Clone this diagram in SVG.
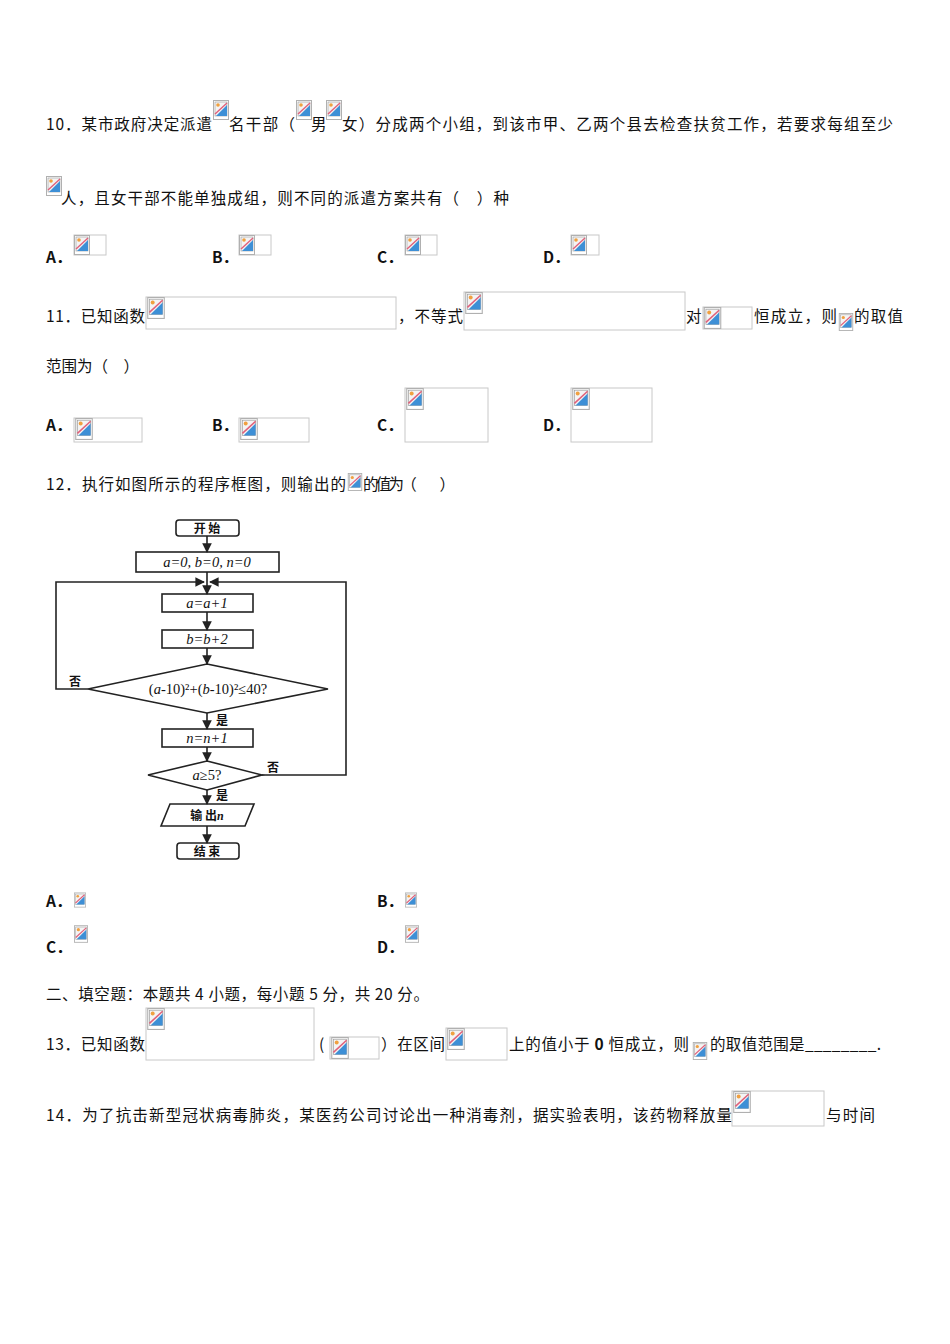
<svg xmlns="http://www.w3.org/2000/svg" xmlns:xlink="http://www.w3.org/1999/xlink" width="950" height="1344" viewBox="0 0 950 1344">
<style>
text{font-family:"Noto Sans CJK SC","Liberation Serif",serif;font-size:15.5px;fill:#111}
.b{font-weight:bold}
.box{fill:none;stroke:#c8c8c8;stroke-width:1}
.fc{fill:none;stroke:#222;stroke-width:1.6}
.ft{font-family:"Liberation Serif","Noto Sans CJK SC",serif;font-size:14.5px;font-style:italic;text-anchor:middle}
.fz{font-size:12px;text-anchor:middle;font-weight:bold}
</style>
<defs>
<symbol id="ic" viewBox="0 0 16 20">
<rect x="0.5" y="0.5" width="15" height="19" fill="#fff" stroke="#b0b0b0"/>
<rect x="2" y="2" width="12" height="14" fill="#f4f4f4" stroke="#999" stroke-width="0.6"/>
<polygon points="14,5 14,16 3,16" fill="#3d8fd6"/>
<line x1="2" y1="14" x2="14" y2="3" stroke="#e0607a" stroke-width="1.4"/>
<circle cx="5" cy="5" r="1.8" fill="#f0a040"/>
</symbol>
<marker id="ar" viewBox="0 0 10 10" refX="9" refY="5" markerWidth="6" markerHeight="6" orient="auto"><path d="M0,0L10,5L0,10z" fill="#222"/></marker>
</defs>

<g id="q10">
<text x="46" y="130" textLength="166" lengthAdjust="spacing">10．某市政府决定派遣</text>
<use xlink:href="#ic" x="213" y="100" width="16" height="20"/>
<text x="229" y="130" textLength="66" lengthAdjust="spacing">名干部（</text>
<use xlink:href="#ic" x="296" y="100" width="16" height="20"/>
<text x="311" y="130">男</text>
<use xlink:href="#ic" x="326" y="100" width="16" height="20"/>
<text x="342" y="130" textLength="551" lengthAdjust="spacing">女）分成两个小组，到该市甲、乙两个县去检查扶贫工作，若要求每组至少</text>
<use xlink:href="#ic" x="46" y="176" width="16" height="20"/>
<text x="61" y="204" textLength="448" lengthAdjust="spacing">人，且女干部不能单独成组，则不同的派遣方案共有（　）种</text>
<text x="46" y="263" class="b">A．</text><rect class="box" x="74" y="235" width="32" height="20"/><use xlink:href="#ic" x="74" y="235" width="16" height="20"/>
<text x="212" y="263" class="b">B．</text><rect class="box" x="239" y="235" width="32" height="20"/><use xlink:href="#ic" x="239" y="235" width="16" height="20"/>
<text x="377" y="263" class="b">C．</text><rect class="box" x="405" y="235" width="32" height="20"/><use xlink:href="#ic" x="405" y="235" width="16" height="20"/>
<text x="543" y="263" class="b">D．</text><rect class="box" x="571" y="235" width="28" height="20"/><use xlink:href="#ic" x="571" y="235" width="16" height="20"/>
</g>

<g id="q11">
<text x="46" y="322" textLength="99" lengthAdjust="spacing">11．已知函数</text>
<rect class="box" x="146" y="297" width="250" height="32"/><use xlink:href="#ic" x="146" y="297" width="20" height="22"/>
<text x="398" y="322" textLength="65" lengthAdjust="spacing">，不等式</text>
<rect class="box" x="464" y="292" width="221" height="38"/><use xlink:href="#ic" x="464" y="292" width="20" height="22"/>
<text x="686" y="322">对</text>
<rect class="box" x="703" y="307" width="49" height="22"/><use xlink:href="#ic" x="703" y="307" width="19" height="22"/>
<text x="754" y="322" textLength="83" lengthAdjust="spacing">恒成立，则</text>
<use xlink:href="#ic" x="838" y="313" width="16" height="18"/>
<text x="854" y="322" textLength="49" lengthAdjust="spacing">的取值</text>
<text x="46" y="372" textLength="93" lengthAdjust="spacing">范围为（　）</text>
<text x="46" y="431" class="b">A．</text><rect class="box" x="74" y="418" width="68" height="24"/><use xlink:href="#ic" x="74" y="418" width="20" height="22"/>
<text x="212" y="431" class="b">B．</text><rect class="box" x="239" y="418" width="70" height="24"/><use xlink:href="#ic" x="239" y="418" width="20" height="22"/>
<text x="377" y="431" class="b">C．</text><rect class="box" x="405" y="388" width="83" height="54"/><use xlink:href="#ic" x="405" y="388" width="20" height="22"/>
<text x="543" y="431" class="b">D．</text><rect class="box" x="571" y="388" width="81" height="54"/><use xlink:href="#ic" x="571" y="388" width="20" height="22"/>
</g>

<g id="q12">
<text x="46" y="490" textLength="300" lengthAdjust="spacing">12．执行如图所示的程序框图，则输出的</text>
<use xlink:href="#ic" x="347" y="473" width="16" height="18"/>
<text x="363" y="490" textLength="92" lengthAdjust="spacing">的值为（　　）</text>
</g>

<g id="flowchart">
<g id="n-start"><rect class="fc" x="176" y="520" width="63" height="16" rx="3"/><text class="fz" x="207" y="533">开 始</text></g>
<g id="n-init"><rect class="fc" x="136" y="552" width="143" height="20"/><text class="ft" x="207" y="567">a=0, b=0, n=0</text></g>
<g id="n-a"><rect class="fc" x="162" y="594" width="91" height="18"/><text class="ft" x="207" y="608">a=a+1</text></g>
<g id="n-b"><rect class="fc" x="162" y="630" width="91" height="18"/><text class="ft" x="207" y="644">b=b+2</text></g>
<g id="n-d1"><polygon class="fc" points="207,664 328,689 207,713 88,689"/><text class="ft" x="208" y="694" style="font-style:normal">(<tspan font-style="italic">a</tspan>-10)²+(<tspan font-style="italic">b</tspan>-10)²≤40?</text></g>
<g id="n-n"><rect class="fc" x="162" y="729" width="91" height="18"/><text class="ft" x="207" y="743">n=n+1</text></g>
<g id="n-d2"><polygon class="fc" points="207,761 262,775 207,790 148,775"/><text class="ft" x="207" y="780"><tspan>a</tspan><tspan font-style="normal">≥5?</tspan></text></g>
<g id="n-out"><polygon class="fc" points="170,804 254,804 245,826 161,826"/><text class="fz" x="207" y="820">输 出<tspan font-style="italic" font-family="Liberation Serif">n</tspan></text></g>
<g id="n-end"><rect class="fc" x="177" y="843" width="62" height="16" rx="3"/><text class="fz" x="207" y="856">结 束</text></g>
</g>
<g id="connectors" class="fc">
<line x1="207" y1="536" x2="207" y2="552" marker-end="url(#ar)"/>
<line x1="207" y1="572" x2="207" y2="594" marker-end="url(#ar)"/>
<line x1="207" y1="612" x2="207" y2="630" marker-end="url(#ar)"/>
<line x1="207" y1="648" x2="207" y2="664" marker-end="url(#ar)"/>
<line x1="207" y1="713" x2="207" y2="729" marker-end="url(#ar)"/>
<line x1="207" y1="747" x2="207" y2="761" marker-end="url(#ar)"/>
<line x1="207" y1="790" x2="207" y2="804" marker-end="url(#ar)"/>
<line x1="207" y1="826" x2="207" y2="843" marker-end="url(#ar)"/>
<polyline points="88,689 56,689 56,582 204,582" marker-end="url(#ar)"/>
<polyline points="262,775 346,775 346,582 210,582" marker-end="url(#ar)"/>
<text class="fz" x="75" y="686" stroke="none" fill="#111">否</text>
<text class="fz" x="222" y="725" stroke="none" fill="#111">是</text>
<text class="fz" x="273" y="772" stroke="none" fill="#111">否</text>
<text class="fz" x="222" y="800" stroke="none" fill="#111">是</text>
</g>

<g id="q12opts">
<text x="46" y="907" class="b">A．</text><use xlink:href="#ic" x="74" y="890" width="12" height="20"/>
<text x="377" y="907" class="b">B．</text><use xlink:href="#ic" x="405" y="890" width="12" height="20"/>
<text x="46" y="953" class="b">C．</text><use xlink:href="#ic" x="74" y="924" width="14" height="20"/>
<text x="377" y="953" class="b">D．</text><use xlink:href="#ic" x="405" y="924" width="14" height="20"/>
</g>

<g id="sec2"><text x="46" y="1000" textLength="383" lengthAdjust="spacing">二、填空题：本题共 4 小题，每小题 5 分，共 20 分。</text></g>

<g id="q13">
<text x="46" y="1050" textLength="99" lengthAdjust="spacing">13．已知函数</text>
<rect class="box" x="146" y="1008" width="168" height="52"/><use xlink:href="#ic" x="146" y="1008" width="20" height="22"/>
<text x="319" y="1050">(</text>
<rect class="box" x="330" y="1037" width="49" height="22"/><use xlink:href="#ic" x="330" y="1037" width="20" height="22"/>
<text x="381" y="1050" textLength="64" lengthAdjust="spacing">）在区间</text>
<rect class="box" x="446" y="1028" width="61" height="32"/><use xlink:href="#ic" x="446" y="1028" width="20" height="22"/>
<text x="509" y="1050" textLength="180" lengthAdjust="spacing">上的值小于 <tspan class="b">0</tspan> 恒成立，则</text>
<use xlink:href="#ic" x="690" y="1042" width="20" height="18"/>
<text x="710" y="1050" textLength="171" lengthAdjust="spacing">的取值范围是________.</text>
</g>

<g id="q14">
<text x="46" y="1121" textLength="686" lengthAdjust="spacing">14．为了抗击新型冠状病毒肺炎，某医药公司讨论出一种消毒剂，据实验表明，该药物释放量</text>
<rect class="box" x="732" y="1091" width="92" height="35"/><use xlink:href="#ic" x="732" y="1091" width="20" height="22"/>
<text x="826" y="1121" textLength="49" lengthAdjust="spacing">与时间</text>
</g>
</svg>
